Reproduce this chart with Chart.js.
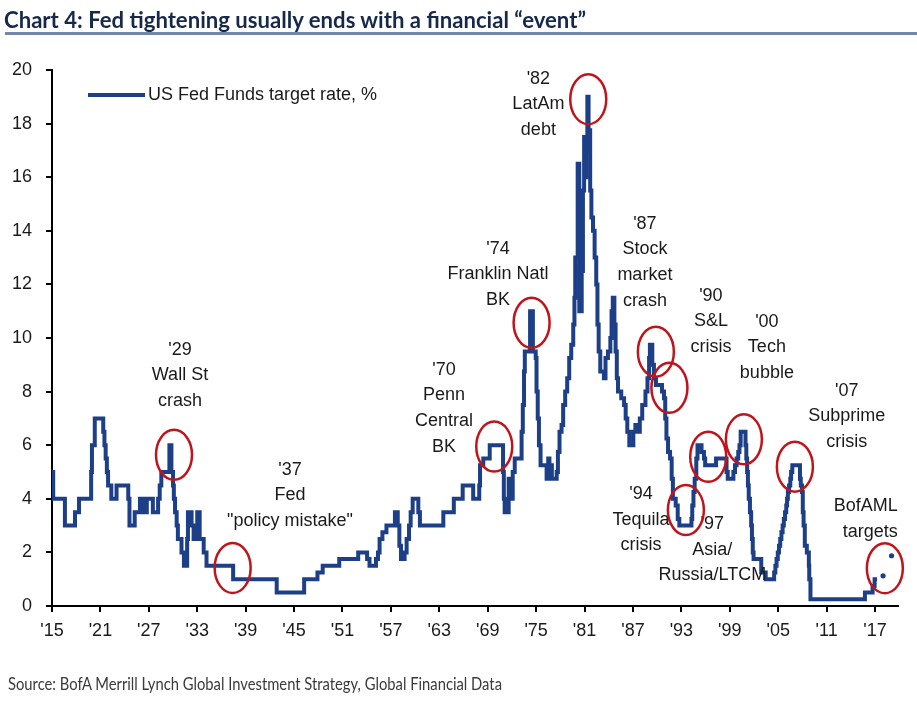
<!DOCTYPE html>
<html>
<head>
<meta charset="utf-8">
<script src="https://cdn.jsdelivr.net/npm/chart.js@4.4.1/dist/chart.umd.min.js"></script>
<style>
html, body { margin: 0; padding: 0; background: #fff; }
body { width: 917px; height: 701px; position: relative; overflow: hidden; }
#wrap { position: absolute; left: 0; top: 0; width: 917px; height: 701px; }
#title { position: absolute; left: 4px; top: 6px; font: bold 22px Lato, "Open Sans", sans-serif; color: #17294a; white-space: nowrap; transform-origin: 0 0; line-height: normal; }
#rule { position: absolute; left: 5px; right: 0; top: 32px; height: 3px; background: #6f88ab; }
#source { position: absolute; left: 8px; top: 672px; font: 18px Lato, "Open Sans", sans-serif; color: #3a3a3a; white-space: nowrap; transform-origin: 0 0; }
</style>
</head>
<body>
<div id="wrap"><canvas id="chart"></canvas></div>
<div id="title">Chart 4: Fed tightening usually ends with a financial “event”</div>
<div id="rule"></div>
<div id="source">Source: BofA Merrill Lynch Global Investment Strategy, Global Financial Data</div>
<script>
// Fed funds target rate: year of each change and the new level, %
const rateYears = [
  1915.0, 1915.15, 1916.6, 1917.85, 1918.35, 1919.85, 1919.95, 1920.3,
  1921.35, 1921.5, 1921.65, 1921.8, 1921.95, 1922.35, 1923.0, 1924.45, 1924.6,
  1925.25, 1925.9, 1926.15, 1926.35, 1926.55, 1926.75, 1927.5, 1928.15, 1928.35,
  1928.55, 1929.55, 1929.8, 1930.0, 1930.1, 1930.25, 1930.45, 1930.6, 1931.05,
  1931.35, 1931.75, 1931.85, 1932.3, 1932.55, 1933.0, 1933.3, 1933.8, 1934.15,
  1937.45, 1942.85, 1946.25, 1947.9, 1948.55, 1950.6, 1952.95, 1954.05, 1954.35,
  1955.15, 1955.4, 1955.6, 1955.95, 1956.45, 1957.5, 1957.85, 1958.05, 1958.25,
  1958.7, 1958.95, 1959.25, 1959.45, 1959.7, 1960.4, 1960.6, 1963.5, 1964.8,
  1965.9, 1967.2, 1967.95, 1968.05, 1968.45, 1969.25, 1970.9, 1971.0, 1971.1,
  1971.6, 1971.8, 1972.1, 1972.35, 1973.2, 1973.35, 1973.5, 1973.6, 1974.25,
  1974.6, 1974.95, 1975.05, 1975.2, 1975.35, 1975.55, 1976.3, 1976.5, 1976.65,
  1976.8, 1976.95, 1977.55, 1977.7, 1977.9, 1978.15, 1978.35, 1978.6, 1978.85,
  1979.1, 1979.35, 1979.6, 1979.75, 1979.85, 1980.15, 1980.35, 1980.65, 1980.8,
  1980.95, 1981.1, 1981.2, 1981.35, 1981.5, 1981.6, 1981.7, 1981.85, 1982.05,
  1982.25, 1982.45, 1982.6, 1982.75, 1982.95, 1983.4, 1983.6, 1983.9, 1984.2,
  1984.35, 1984.5, 1984.7, 1984.85, 1985.0, 1985.15, 1985.55, 1985.9, 1986.1,
  1986.3, 1986.55, 1987.05, 1987.3, 1987.55, 1987.85, 1988.15, 1988.55, 1988.8,
  1989.0, 1989.1, 1989.4, 1989.6, 1989.85, 1990.6, 1990.85, 1991.0, 1991.15,
  1991.35, 1991.6, 1991.8, 1991.95, 1992.3, 1992.55, 1992.75, 1994.25, 1994.35,
  1994.5, 1994.65, 1994.85, 1995.0, 1995.5, 1995.8, 1995.95, 1997.3, 1998.6,
  1998.75, 1999.45, 1999.65, 1999.85, 2000.05, 2000.2, 2000.35, 2000.95, 2001.05,
  2001.15, 2001.25, 2001.35, 2001.5, 2001.65, 2001.75, 2001.85, 2001.95, 2002.9,
  2003.45, 2004.5, 2004.65, 2004.8, 2004.95, 2005.1, 2005.25, 2005.4, 2005.55,
  2005.7, 2005.85, 2006.0, 2006.1, 2006.2, 2006.35, 2006.5, 2006.6, 2006.75,
  2007.7, 2007.8, 2007.95, 2008.05, 2008.15, 2008.3, 2008.55, 2008.8, 2008.85,
  2009.0, 2015.75, 2016.7, 2016.95, 2017.25
];
const rates = [
  5.0, 4.0, 3.0, 3.5, 4.0, 5.0, 6.0, 7.0,
  6.5, 6.0, 5.5, 5.0, 4.5, 4.0, 4.5, 4.0, 3.0,
  3.5, 4.0, 3.5, 4.0, 3.5, 4.0, 3.5, 4.0, 4.5,
  5.0, 6.0, 5.0, 4.5, 4.0, 3.5, 3.0, 2.5, 2.0,
  1.5, 2.5, 3.5, 3.0, 2.5, 3.5, 2.5, 2.0, 1.5,
  1.0, 0.5, 1.0, 1.25, 1.5, 1.75, 2.0, 1.75, 1.5,
  1.75, 2.0, 2.5, 2.75, 3.0, 3.5, 3.0, 2.25, 1.75,
  2.0, 2.5, 3.0, 3.5, 4.0, 3.5, 3.0, 3.5, 4.0,
  4.5, 4.0, 4.5, 5.25, 5.5, 6.0, 5.0, 4.0, 3.5,
  4.75, 4.0, 5.0, 5.5, 6.5, 7.5, 8.75, 9.5, 11.0,
  9.5, 9.25, 8.0, 7.0, 6.0, 5.25, 4.75, 5.5, 4.75,
  5.25, 4.75, 5.0, 5.75, 6.5, 6.75, 7.5, 8.0, 8.5,
  9.25, 9.75, 10.5, 11.5, 13.0, 16.5, 11.0, 12.5, 15.5,
  17.5, 16.0, 17.5, 19.0, 17.0, 17.75, 15.5, 14.5, 14.0,
  13.0, 12.0, 10.5, 9.5, 8.75, 8.5, 9.25, 9.5, 10.0,
  11.0, 11.5, 10.5, 9.5, 8.5, 8.0, 7.75, 7.5, 7.0,
  6.5, 6.0, 6.5, 6.75, 6.5, 7.0, 7.5, 8.0, 8.5,
  9.25, 9.75, 9.0, 8.5, 8.25, 8.0, 7.75, 7.0, 6.25,
  5.75, 5.5, 4.75, 4.0, 3.75, 3.25, 3.0, 3.25, 3.75,
  4.25, 4.75, 5.5, 6.0, 5.75, 5.5, 5.25, 5.5, 5.0,
  4.75, 5.0, 5.25, 5.5, 5.75, 6.0, 6.5, 6.0, 5.5,
  5.0, 4.5, 4.0, 3.5, 3.0, 2.5, 2.0, 1.75, 1.25,
  1.0, 1.25, 1.5, 1.75, 2.0, 2.25, 2.5, 2.75, 3.0,
  3.25, 3.5, 3.75, 4.0, 4.25, 4.5, 4.75, 5.0, 5.25,
  4.75, 4.5, 4.25, 3.5, 3.0, 2.25, 2.0, 1.5, 1.0,
  0.25, 0.5, 0.75, 1.0, 1.0
];
// BofAML targets
const targetYears = [2018.0, 2019.05];
const targetRates = [1.125, 1.875];

const tickYears = [1915, 1921, 1927, 1933, 1939, 1945, 1951, 1957, 1963, 1969, 1975, 1981, 1987, 1993, 1999, 2005, 2011, 2017];

// event labels, anchored in data space (year, rate) at the first line
const eventLabels = [
  { lines: ["'29", 'Wall St', 'crash'], year: 1930.86, rate: 9.56 },
  { lines: ["'37", 'Fed', '"policy mistake"'], year: 1944.49, rate: 5.08 },
  { lines: ["'70", 'Penn', 'Central', 'BK'], year: 1963.58, rate: 8.81 },
  { lines: ["'74", 'Franklin Natl', 'BK'], year: 1970.27, rate: 13.33 },
  { lines: ["'82", 'LatAm', 'debt'], year: 1975.28, rate: 19.67 },
  { lines: ["'87", 'Stock', 'market', 'crash'], year: 1988.48, rate: 14.26 },
  { lines: ["'90", 'S&L', 'crisis'], year: 1996.66, rate: 11.57 },
  { lines: ["'00", 'Tech', 'bubble'], year: 2003.6, rate: 10.6 },
  { lines: ["'07", 'Subprime', 'crisis'], year: 2013.51, rate: 8.03 },
  { lines: ["'94", 'Tequila', 'crisis'], year: 1987.99, rate: 4.18 },
  { lines: ["'97", 'Asia/', 'Russia/LTCM'], year: 1996.84, rate: 3.06 },
  { lines: ['BofAML', 'targets'], year: 2019.83, rate: 3.73, align: 'right' }
];
// red rings round each event
const eventRings = [
  [1930.12, 5.64], [1937.39, 1.42], [1969.81, 5.95], [1974.44, 10.57],
  [1981.46, 18.91], [1989.84, 9.49], [1991.52, 8.14], [1993.56, 3.58],
  [1996.33, 5.57], [2000.75, 6.22], [2007.07, 5.2], [2018.22, 1.41]
];

const navy = '#1d3f88';
const textColor = '#1a1a1a';
const sans = '"Liberation Sans", Arial, sans-serif';

function fitWidth(id, w) {
  const el = document.getElementById(id);
  el.style.transform = 'scaleX(' + (w / el.getBoundingClientRect().width) + ')';
}
fitWidth('title', 582);
fitWidth('source', 494);

const eventPlugin = {
  id: 'events',
  afterDatasetsDraw(chart) {
    const ctx = chart.ctx;
    const xs = chart.scales.x, ys = chart.scales.y;
    ctx.save();
    ctx.fillStyle = textColor;
    ctx.font = '18px ' + sans;
    ctx.textBaseline = 'middle';
    eventLabels.forEach(ev => {
      ctx.textAlign = ev.align || 'center';
      const x = xs.getPixelForValue(ev.year);
      const y = ys.getPixelForValue(ev.rate);
      ev.lines.forEach((t, i) => ctx.fillText(t, x, y + i * 25.6));
    });
    ctx.strokeStyle = '#c0141c';
    ctx.lineWidth = 2.5;
    eventRings.forEach(r => {
      ctx.beginPath();
      ctx.ellipse(xs.getPixelForValue(r[0]), ys.getPixelForValue(r[1]), 18, 25, 0, 0, Math.PI * 2);
      ctx.stroke();
    });
    // legend
    const a = chart.chartArea;
    const ds = chart.data.datasets[0];
    ctx.strokeStyle = ds.borderColor;
    ctx.lineWidth = 4;
    ctx.beginPath();
    ctx.moveTo(a.left + 36, a.top + 25);
    ctx.lineTo(a.left + 93, a.top + 25);
    ctx.stroke();
    ctx.textAlign = 'left';
    ctx.fillStyle = textColor;
    ctx.fillText(ds.label, a.left + 96, a.top + 25);
    ctx.restore();
  }
};

const axisGrid = { display: true, drawOnChartArea: false, drawTicks: true, tickLength: 6, color: '#000', lineWidth: 2 };
const axisBorder = { display: true, color: '#000', width: 2 };

new Chart(document.getElementById('chart'), {
  type: 'line',
  data: {
    datasets: [{
      label: 'US Fed Funds target rate, %',
      data: rateYears.map((x, i) => ({ x: x, y: rates[i] })),
      borderColor: navy,
      borderWidth: 4,
      stepped: true,
      pointRadius: 0,
      fill: false
    }, {
      label: 'BofAML targets',
      data: targetYears.map((x, i) => ({ x: x, y: targetRates[i] })),
      showLine: false,
      pointRadius: 2.6,
      pointBackgroundColor: navy,
      pointBorderWidth: 0
    }]
  },
  options: {
    responsive: true,
    maintainAspectRatio: false,
    animation: false,
    layout: { padding: { top: 70, right: 19, bottom: 61, left: 0 } },
    plugins: { legend: { display: false }, tooltip: { enabled: false } },
    scales: {
      x: {
        type: 'linear',
        min: 1915,
        max: 2019.85,
        afterBuildTicks: s => { s.ticks = tickYears.map(v => ({ value: v })); },
        afterFit: s => { s.height = 34; },
        ticks: {
          callback: v => "'" + String(v).slice(2),
          font: { family: sans, size: 18 },
          color: textColor,
          padding: 8,
          maxRotation: 0,
          autoSkip: false
        },
        grid: axisGrid,
        border: axisBorder
      },
      y: {
        min: 0,
        max: 20,
        afterFit: s => { s.width = 52; },
        ticks: {
          stepSize: 2,
          font: { family: sans, size: 18 },
          color: textColor,
          padding: 14
        },
        grid: axisGrid,
        border: axisBorder
      }
    }
  },
  plugins: [eventPlugin]
});
</script>
</body>
</html>
